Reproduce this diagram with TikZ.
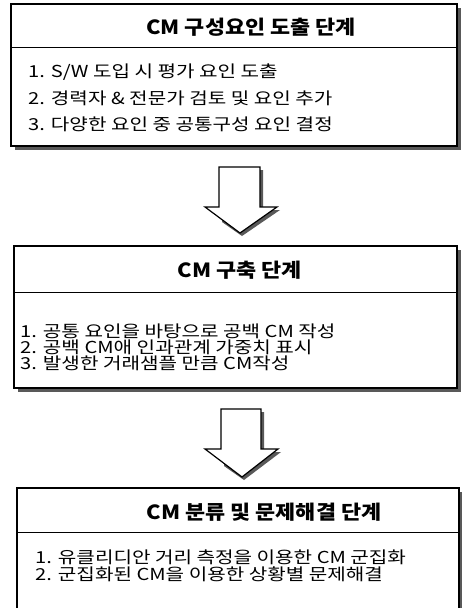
\documentclass[tikz,border=0pt]{standalone}
\usepackage{fontspec}
\setmainfont{Noto Sans CJK KR}
\newfontfamily\itemfont[FakeStretch=1.22]{Noto Sans CJK KR}
\newfontfamily\titlefont[FakeStretch=1.12]{Noto Sans CJK KR}
\begin{document}
\begin{tikzpicture}[x=1pt,y=-1pt,
  box/.style={draw=black,line width=1.6pt,fill=white},
  shadowbox/.style={fill=black!65},
  sep/.style={draw=black,line width=1pt},
  title/.style={font=\titlefont\fontsize{19.5}{22}\selectfont\bfseries,inner sep=0pt},
  item/.style={font=\itemfont\fontsize{16.5}{18}\selectfont,anchor=west,inner sep=0pt},
  blockarrow/.style={draw=black,line width=1.2pt,fill=white,line join=miter},
  arrowshadow/.style={fill=black!65}]
\useasboundingbox (0,0) rectangle (462,608);
\fill[white] (0,0) rectangle (462,608);
\begin{scope}
\clip (0,0) rectangle (462,608);
% Box 1
\fill[shadowbox] (15,8) rectangle (461,150);
\draw[box] (11,4) rectangle (457,146);
\draw[sep] (11,47) -- (457,47);
\node[title] (t1) at (251,27) {CM 구성요인 도출 단계};
\node[item] (a1) at (28,72) {1. S/W 도입 시 평가 요인 도출};
\node[item] (a2) at (28,98) {2. 경력자 \& 전문가 검토 및 요인 추가};
\node[item] (a3) at (28,124) {3. 다양한 요인 중 공통구성 요인 결정};
% Arrow 1
\fill[arrowshadow] (222,170) -- (263,170) -- (263,210) -- (280,210) -- (242,236) -- (222,222) -- cycle;
\draw[blockarrow] (219,167) -- (260,167) -- (260,207) -- (277,207) -- (240,233) -- (205,207) -- (219,207) -- cycle;
% Box 2
\fill[shadowbox] (18,250) rectangle (461,392);
\draw[box] (14,246) rectangle (457,388);
\draw[sep] (14,292) -- (457,292);
\node[title] (t2) at (240,270) {CM 구축 단계};
\node[item] (b1) at (20,331) {1. 공통 요인을 바탕으로 공백 CM 작성};
\node[item] (b2) at (20,347) {2. 공백 CM애 인과관계 가중치 표시};
\node[item] (b3) at (20,363) {3. 발생한 거래샘플 만큼 CM작성};
% Arrow 2
\fill[arrowshadow] (224,412) -- (264,412) -- (264,452) -- (281,452) -- (244,480) -- (224,466) -- cycle;
\draw[blockarrow] (221,409) -- (261,409) -- (261,449) -- (278,449) -- (242,477) -- (205,449) -- (221,449) -- cycle;
% Box 3
\fill[shadowbox] (21,492) rectangle (462,630);
\draw[box] (17,488) rectangle (459,626);
\draw[sep] (17,532) -- (459,532);
\node[title] (t3) at (264,512) {CM 분류 및 문제해결 단계};
\node[item] (c1) at (35,557) {1. 유클리디안 거리 측정을 이용한 CM 군집화};
\node[item] (c2) at (35,574) {2. 군집화된 CM을 이용한 상황별 문제해결};
\end{scope}
\end{tikzpicture}
\end{document}
